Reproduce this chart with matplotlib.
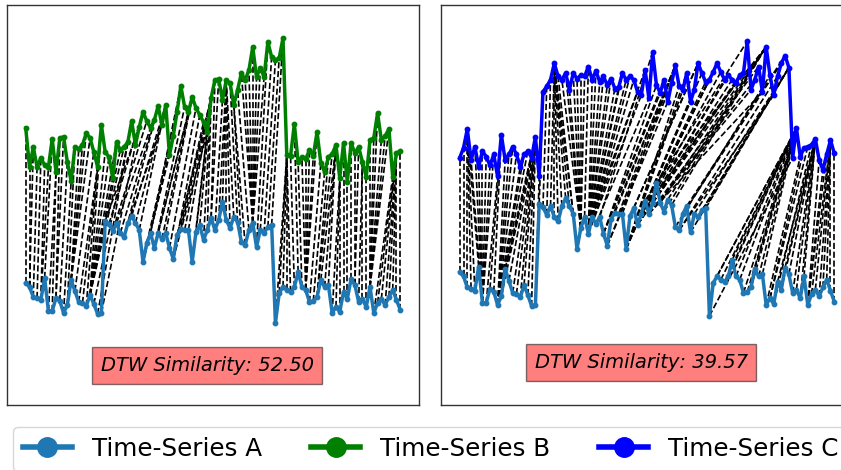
import numpy as np
import matplotlib.pyplot as plt
from matplotlib.lines import Line2D

# --- data (arbitrary units, no axis ticks shown) ---
series_a = [
    4.7, 4.3, 3.3, 3.2, 3.0, 5.2, 1.9, 1.9, 3.2, 2.9,
    1.7, 2.5, 5.0, 3.9, 2.8, 2.7, 2.4, 3.5, 2.6, 1.6,
    1.7, 10.9, 10.6, 9.9, 10.7, 9.7, 9.3, 10.7, 11.4, 10.7,
    10.0, 6.8, 8.7, 9.7, 8.2, 9.7, 9.1, 9.7, 8.2, 7.1,
    9.5, 10.1, 10.0, 10.0, 6.8, 9.8, 10.5, 9.0, 10.0, 11.2,
    10.0, 11.0, 12.8, 11.0, 10.2, 11.3, 10.8, 8.8, 8.5, 10.0,
    10.7, 8.3, 10.0, 9.7, 10.3, 10.5, 0.7, 3.7, 4.3, 4.0,
    3.8, 4.3, 5.8, 4.3, 4.0, 2.8, 2.9, 3.3, 5.0, 4.3,
    4.5, 1.7, 2.3, 1.8, 3.8, 3.1, 5.1, 4.5, 2.8, 3.1,
    2.3, 4.3, 1.7, 2.7, 3.1, 2.5, 3.3, 4.0, 3.0, 2.0,
]
series_b = [
    20.2, 16.3, 18.3, 16.3, 17.2, 16.5, 16.3, 19.1, 15.8, 19.2,
    19.3, 16.8, 14.9, 18.3, 18.1, 18.5, 19.7, 19.2, 17.8, 16.3,
    20.5, 17.8, 17.3, 15.2, 18.8, 18.0, 18.3, 18.8, 20.9, 18.5,
    20.3, 21.8, 20.9, 20.2, 21.0, 22.4, 20.5, 22.5, 17.5, 19.4,
    21.8, 24.4, 22.3, 21.8, 23.3, 22.2, 21.5, 20.8, 19.8, 23.2,
    25.0, 25.1, 23.0, 25.0, 24.7, 22.5, 24.0, 25.7, 25.0, 26.0,
    28.3, 25.3, 26.2, 25.3, 28.8, 27.3, 27.0, 27.2, 29.2, 17.5,
    17.4, 20.6, 16.8, 17.3, 17.1, 18.0, 17.4, 19.8, 16.7, 15.8,
    17.3, 17.6, 18.5, 15.2, 18.7, 14.8, 18.7, 17.7, 18.3, 16.8,
    15.3, 19.0, 19.2, 21.7, 19.0, 19.4, 20.1, 15.3, 17.7, 17.9,
]
series_c = [
    15.1, 16.0, 17.7, 14.9, 16.1, 14.3, 15.7, 15.2, 14.4, 15.4,
    13.4, 17.2, 14.9, 15.4, 16.1, 15.4, 14.3, 15.4, 15.7, 15.1,
    17.0, 13.4, 21.1, 21.6, 22.2, 23.7, 22.5, 22.2, 22.8, 21.3,
    22.8, 22.3, 22.6, 22.5, 23.4, 22.2, 23.0, 22.0, 22.5, 21.7,
    22.3, 21.4, 21.5, 22.8, 22.2, 22.5, 22.2, 21.1, 20.8, 23.1,
    20.5, 24.7, 21.7, 21.0, 22.2, 20.2, 21.9, 23.5, 21.6, 21.3,
    22.8, 20.2, 21.3, 23.7, 22.8, 22.0, 22.2, 22.9, 23.7, 22.9,
    22.2, 22.6, 22.2, 21.9, 22.6, 22.8, 25.7, 21.3, 22.2, 23.4,
    21.1, 25.2, 22.6, 20.8, 22.5, 23.7, 24.4, 23.3, 15.1, 17.8,
    15.2, 16.0, 16.1, 16.3, 16.8, 14.9, 14.0, 15.4, 16.7, 15.5,
]
labels = ['Time-Series A', 'Time-Series B', 'Time-Series C']
similarities = [52.50, 39.57]


def znorm(x):
    x = np.asarray(x, dtype=float)
    return (x - x.mean()) / x.std()


def dtw_path(x, y):
    n, m = len(x), len(y)
    cost = np.full((n + 1, m + 1), np.inf)
    cost[0, 0] = 0.0
    for i in range(1, n + 1):
        for j in range(1, m + 1):
            d = abs(x[i - 1] - y[j - 1])
            cost[i, j] = d + min(cost[i - 1, j], cost[i, j - 1], cost[i - 1, j - 1])
    i, j = n, m
    path = [(i - 1, j - 1)]
    while i > 1 or j > 1:
        steps = [(cost[i - 1, j - 1], i - 1, j - 1), (cost[i - 1, j], i - 1, j), (cost[i, j - 1], i, j - 1)]
        _, i, j = min(steps, key=lambda s: s[0])
        path.append((i - 1, j - 1))
    return path[::-1]


fig = plt.figure(figsize=(8.41, 4.70), dpi=100)
ax1 = fig.add_axes([7 / 841, 65 / 470, 412 / 841, 400 / 470])
ax2 = fig.add_axes([441 / 841, 65 / 470, 412 / 841, 400 / 470])

colors = {'A': '#1f77b4', 'B': 'green', 'C': 'blue'}
panels = [
    (ax1, series_b, colors['B'], (-7.5, 32.5), 0.099),
    (ax2, series_c, colors['C'], (-7.4, 29.0), 0.106),
]

for k, (ax, other, col, ylim, ty) in enumerate(panels):
    t = np.arange(len(series_a))
    path = dtw_path(znorm(series_a), znorm(other))
    for i, j in path:
        ax.plot([t[i], t[j]], [series_a[i], other[j]], 'k--', lw=1.2, zorder=1)
    ax.plot(t, series_a, '-o', color=colors['A'], lw=2.5, ms=3.2, zorder=2)
    ax.plot(t, other, '-o', color=col, lw=2.5, ms=3.2, zorder=2)
    ax.set_ylim(*ylim)
    ax.set_xticks([])
    ax.set_yticks([])
    for sp in ax.spines.values():
        sp.set_color('#333333')
        sp.set_linewidth(1.0)
    ax.text(0.486, ty, f'DTW Similarity: {similarities[k]:.2f}', transform=ax.transAxes,
            ha='center', va='center', fontsize=14, style='italic',
            bbox=dict(boxstyle='square,pad=0.45', facecolor='red', alpha=0.5))

handles = [Line2D([0], [0], color=colors[s], lw=4, marker='o', markersize=14) for s in 'ABC']
fig.legend(handles, labels, loc='upper left', bbox_to_anchor=(13 / 841, 1 - 427 / 470),
           ncol=3, fontsize=17.7, borderaxespad=0)

fig.savefig('out.png', dpi=100)
